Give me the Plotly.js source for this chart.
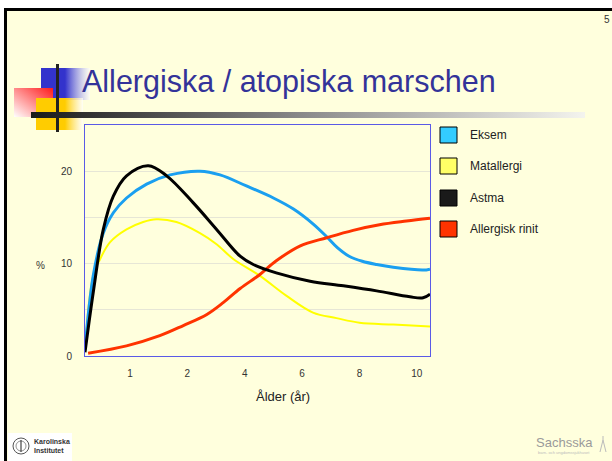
<!DOCTYPE html>
<html>
<head>
<meta charset="utf-8">
<script src="https://cdn.plot.ly/plotly-3.0.1.min.js"></script>
<style>
  html, body { margin: 0; padding: 0; background: #FFFFDD; }
  #chart { width: 612px; height: 461px; }
</style>
</head>
<body>
<div id="chart"></div>
<script>
// ---- data (x = position on the age category scale; tick labels below) ----
var tickPos    = [1, 2, 3, 4, 5, 6];
var tickLabels = ['1', '2', '4', '6', '8', '10'];

var seriesNames = ['Eksem', 'Matallergi', 'Astma', 'Allergisk rinit'];

var eksemX = [0.216, 0.36, 0.535, 0.71, 0.94, 1.29, 1.70, 2.22, 2.57, 3.03, 3.50, 3.85, 4.19, 4.43, 4.62, 4.82, 5.05, 5.30, 5.59, 6.11, 6.23];
var eksemY = [0.75, 8.7, 13.3, 15.5, 17.1, 18.6, 19.6, 20.0, 19.6, 18.4, 17.1, 15.9, 14.3, 12.9, 11.7, 10.8, 10.25, 9.9, 9.6, 9.3, 9.4];

var matX = [0.216, 0.36, 0.48, 0.65, 0.94, 1.23, 1.46, 1.81, 2.22, 2.51, 2.80, 3.26, 3.73, 4.19, 4.60, 5.00, 5.59, 6.23];
var matY = [0.75, 8.7, 10.5, 12.3, 13.7, 14.5, 14.8, 14.5, 13.3, 12.1, 10.5, 8.7, 6.5, 4.7, 4.1, 3.6, 3.4, 3.2];

var astmaX = [0.216, 0.36, 0.535, 0.71, 0.94, 1.32, 1.64, 2.10, 2.51, 2.92, 3.15, 3.55, 4.14, 4.72, 5.30, 5.88, 6.11, 6.23];
var astmaY = [0.4, 6.9, 13.7, 17.3, 19.5, 20.6, 19.5, 16.6, 13.7, 10.8, 9.9, 9.0, 8.1, 7.6, 7.05, 6.4, 6.3, 6.7];

var rinitX = [0.27, 0.94, 1.52, 1.93, 2.34, 2.63, 2.92, 3.26, 3.55, 3.96, 4.43, 4.89, 5.35, 5.82, 6.23];
var rinitY = [0.3, 1.1, 2.2, 3.3, 4.5, 5.8, 7.3, 8.8, 10.3, 11.9, 12.8, 13.6, 14.2, 14.6, 14.9];

// ---- styling ----
var lineColors   = ['#1a9ff0', '#ffff00', '#000000', '#ff3300'];
var legendColors = ['#33ccff', '#ffff66', '#1a1a1a', '#ff3300'];
var lineWidths   = [3, 2, 3, 3];
var FONT = 'Liberation Sans, Arial, sans-serif';
var BG = '#FFFFDD';

// plot area in pixels
var L = 85, R = 430, T = 125, B = 356, W = 612, H = 461;
function px(x) { return (x - L) / (R - L); }
function py(y) { return (B - y) / (B - T); }

var xs = [eksemX, matX, astmaX, rinitX];
var ys = [eksemY, matY, astmaY, rinitY];
var traces = seriesNames.map(function (n, i) {
  return {
    type: 'scatter', mode: 'lines', name: n,
    x: xs[i], y: ys[i],
    line: { color: lineColors[i], width: lineWidths[i], shape: 'spline', smoothing: 1 },
    hoverinfo: 'skip', showlegend: false
  };
});
// draw order: yellow, blue, red, black on top
traces = [traces[1], traces[0], traces[3], traces[2]];

// ---- slide decoration as SVG ----
var svg =
 '<svg xmlns="http://www.w3.org/2000/svg" width="612" height="461" viewBox="0 0 612 461">' +
 '<defs>' +
 '<linearGradient id="gb" x1="0" y1="0" x2="1" y2="0"><stop offset="0" stop-color="#3333cc"/><stop offset="1" stop-color="#ffffff" stop-opacity="0.6"/></linearGradient>' +
 '<linearGradient id="gr" x1="1" y1="0" x2="0" y2="1"><stop offset="0" stop-color="#ff1a1a"/><stop offset="1" stop-color="#ffffff"/></linearGradient>' +
 '<linearGradient id="gy" x1="0" y1="0" x2="1" y2="0"><stop offset="0" stop-color="#ffcc00"/><stop offset="1" stop-color="#ffffff" stop-opacity="0.7"/></linearGradient>' +
 '<linearGradient id="gh" x1="0" y1="0" x2="1" y2="0"><stop offset="0" stop-color="#1a1a1a"/><stop offset="0.5" stop-color="#8c8c8c"/><stop offset="1" stop-color="#f4f4ee"/></linearGradient>' +
 '</defs>' +
 '<rect x="0" y="0" width="612" height="8" fill="#ffffff"/>' +
 '<rect x="0" y="8" width="4" height="453" fill="#ffffff"/>' +
 '<rect x="4" y="8" width="608" height="3" fill="#000000"/>' +
 '<rect x="4" y="8" width="3" height="453" fill="#000000"/>' +
 '<rect x="41" y="68" width="24" height="30" fill="#3333cc"/>' +
 '<rect x="65" y="68" width="25" height="32" fill="url(#gb)"/>' +
 '<rect x="14" y="88" width="39" height="29" fill="url(#gr)"/>' +
 '<rect x="36" y="98" width="29" height="32" fill="#ffcc00"/>' +
 '<rect x="65" y="98" width="18" height="32" fill="url(#gy)"/>' +
 '<rect x="56" y="64" width="3" height="68" fill="#222222"/>' +
 '<rect x="31" y="112" width="554" height="6" fill="url(#gh)"/>' +
 '<rect x="8" y="433" width="64" height="28" fill="#ffffff"/>' +
 '<circle cx="21" cy="446" r="8" fill="none" stroke="#555555" stroke-width="1"/>' +
 '<circle cx="21" cy="446" r="5" fill="none" stroke="#777777" stroke-width="0.8"/>' +
 '<line x1="21" y1="440" x2="21" y2="452" stroke="#444444" stroke-width="1.2"/>' +
 '<path d="M600 452 L603 440 L606 452 M603 440 L603 436" fill="none" stroke="#bbbbbb" stroke-width="1"/>' +
 '</svg>';
var svgUri = 'data:image/svg+xml;charset=utf-8,' + encodeURIComponent(svg);

// ---- legend (manual, square swatches) ----
var legendTop = [127, 158, 190, 221];
var shapes = [];
var annotations = [];
seriesNames.forEach(function (n, i) {
  shapes.push({
    type: 'rect', xref: 'paper', yref: 'paper',
    x0: px(440), x1: px(457), y0: py(legendTop[i]), y1: py(legendTop[i] + 16),
    fillcolor: legendColors[i], line: { color: '#000000', width: 1 }
  });
  annotations.push({
    xref: 'paper', yref: 'paper', x: px(468), y: py(legendTop[i] + 8),
    xanchor: 'left', yanchor: 'middle', showarrow: false,
    text: n, font: { family: FONT, size: 12, color: '#222222' }
  });
});

annotations.push(
  { xref: 'paper', yref: 'paper', x: px(283), y: py(396), xanchor: 'center', yanchor: 'middle',
    showarrow: false, text: 'Ålder (år)', font: { family: FONT, size: 13, color: '#222222' } },
  { xref: 'paper', yref: 'paper', x: px(40), y: py(265), xanchor: 'center', yanchor: 'middle',
    showarrow: false, text: '%', font: { family: FONT, size: 10, color: '#333333' } },
  { xref: 'paper', yref: 'paper', x: px(607), y: py(19), xanchor: 'center', yanchor: 'middle',
    showarrow: false, text: '5', font: { family: FONT, size: 10, color: '#333333' } },
  { xref: 'paper', yref: 'paper', x: px(32), y: py(446), xanchor: 'left', yanchor: 'middle',
    showarrow: false, align: 'left', text: '<b>Karolinska<br>Institutet</b>',
    font: { family: FONT, size: 7, color: '#333333' } },
  { xref: 'paper', yref: 'paper', x: px(564), y: py(442), xanchor: 'center', yanchor: 'middle',
    showarrow: false, text: 'Sachsska', font: { family: FONT, size: 13, color: '#9a9a9a' } },
  { xref: 'paper', yref: 'paper', x: px(564), y: py(452), xanchor: 'center', yanchor: 'middle',
    showarrow: false, text: 'barn- och ungdomssjukhuset', font: { family: FONT, size: 4, color: '#bbbbbb' } }
);

var layout = {
  width: W, height: H,
  margin: { l: L, r: W - R, t: T, b: H - B, pad: 0 },
  paper_bgcolor: BG, plot_bgcolor: BG,
  font: { family: FONT, color: '#333333' },
  title: {
    text: 'Allergiska / atopiska marschen',
    font: { family: FONT, size: 30.5, color: '#333399' },
    xref: 'container', yref: 'container',
    x: 82 / W, xanchor: 'left', y: 1 - 81 / H, yanchor: 'middle'
  },
  xaxis: {
    range: [0.216, 6.23], tickmode: 'array', tickvals: tickPos, ticktext: tickLabels,
    showgrid: false, zeroline: false, showline: true, mirror: true,
    linecolor: '#5a5ae6', linewidth: 1,
    ticks: 'outside', ticklen: 8, tickcolor: 'rgba(0,0,0,0)',
    tickfont: { family: FONT, size: 10, color: '#333333' }, fixedrange: true
  },
  yaxis: {
    range: [0, 25], tickmode: 'linear', tick0: 0, dtick: 10,
    showgrid: true, gridcolor: '#e6e6d6', gridwidth: 1,
    minor: { tickmode: 'linear', tick0: 0, dtick: 5, showgrid: true, gridcolor: '#e6e6d6', gridwidth: 1, ticks: '' },
    zeroline: false, showline: true, mirror: true,
    linecolor: '#5a5ae6', linewidth: 1,
    ticks: 'outside', ticklen: 10, tickcolor: 'rgba(0,0,0,0)',
    tickfont: { family: FONT, size: 10, color: '#333333' }, fixedrange: true
  },
  images: [{
    source: svgUri, xref: 'paper', yref: 'paper',
    x: px(0), y: py(0), sizex: W / (R - L), sizey: H / (B - T),
    xanchor: 'left', yanchor: 'top', sizing: 'stretch', layer: 'below'
  }],
  shapes: shapes,
  annotations: annotations,
  showlegend: false
};

Plotly.newPlot('chart', traces, layout, { displayModeBar: false, staticPlot: true });
</script>
</body>
</html>
